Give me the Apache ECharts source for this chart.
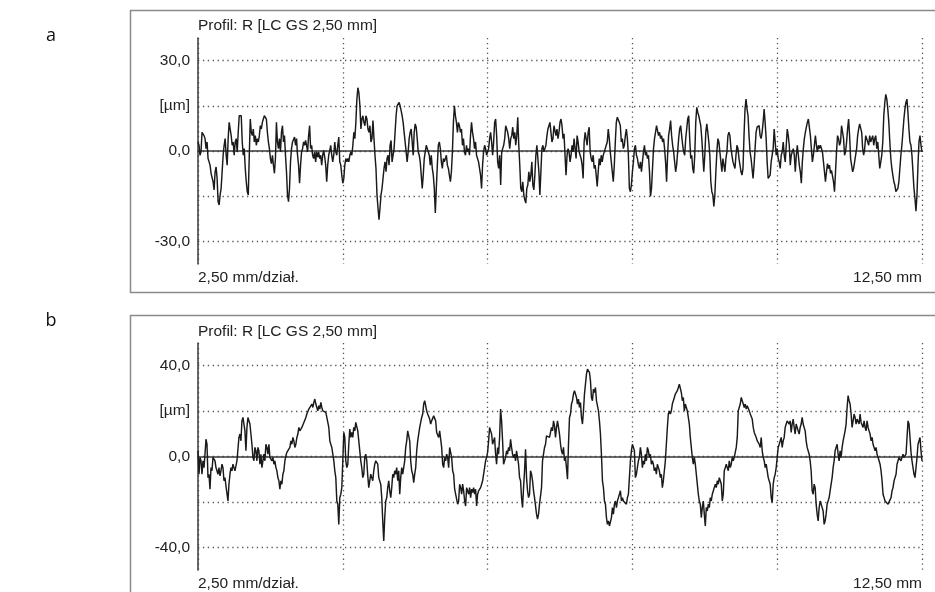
<!DOCTYPE html>
<html><head><meta charset="utf-8">
<script src="https://cdn.jsdelivr.net/npm/echarts@6/dist/echarts.min.js"></script>
<style>html,body{margin:0;padding:0;background:#fff}#c{width:935px;height:592px}</style>
</head><body><div id="c"></div>
<script>
const xMax = 12.5;
const xInterval = 2.5;
const yTicksA = [-30, -15, 0, 15, 30];
const yTicksB = [-40, -20, 0, 20, 40];
const yRangeA = 37.5;
const yRangeB = 50;
const titleText = 'Profil: R [LC GS 2,50 mm]';
const scaleText = '2,50 mm/dział.';
const lengthText = '12,50 mm';
const unitText = '[µm]';

// panel a profile (µm), sampled left to right
const profileA1 = [3.0,1.9,-1.4,-0.3,6.2,6.8,5.1,4.1,0.8,3.0,-2.5,-3.6,-4.7,-7.4,-6.9,-10.2,-12.9,-6.9,-5.3,-9.1,-16.8,-17.9,-14.6,-12.4,-6.9,-1.4,1.9,4.1,-1.4,-4.7,4.1,9.5,7.3,5.1,1.9,3.0,-1.4,3.0,4.1,-0.3,6.2,11.7,12.3,11.7,3.0,-1.4,0.8,-5.8,-10.2,-13.5,-14.6,-1.4,10.6,6.2,5.1,7.3,3.0,5.1,1.9,4.1,3.0,5.1,8.4,7.3,9.5,10.6,11.7,11.2,10.6,6.2,3.0,0.8,-2.5,-4.2,-1.4,-4.7,-7.4,-2.5,9.5,3.0,0.8,4.1,-0.3,6.2,8.4,3.0,5.1,-1.4,-6.9,-14.6,-16.8,-12.4,-3.6,0.8,3.0,3.0,4.6,1.9,4.1,-1.4,-4.7,-10.7,-4.7,-0.3,0.8,3.0,1.9,3.5,1.9,-0.3,5.1,8.4,0.8,1.9,-1.4,-2.5,-0.3,-3.6,-0.3,-2.0,-0.3,-2.5,-1.4,-4.7,-1.4,0.2,-2.0,-4.7,-10.2,-4.7,-1.4,0.2,1.9,-1.4,-3.6,-1.4,3.0,-0.3,-1.4,1.9,4.6,-3.6,-4.7,-8.0,-10.7,-9.1,-4.7,-2.5,-3.6,-2.5,-3.6,-1.4,-0.3,-1.4,1.9,6.2,4.1,9.5,17.2,21.0,19.4,15.0,7.3,10.6,11.7,9.5,8.4,11.7,10.6,7.3,6.2,8.4,3.0,4.1];
const profileA2 = [10.1,4.1,-1.4,-5.8,-14.6,-18.9,-22.8,-18.9,-14.6,-12.4,-9.1,-5.8,-3.6,-6.9,-2.5,-1.4,-4.7,1.9,3.5,-3.6,-1.4,0.8,6.2,11.7,15.0,14.5,16.1,15.0,13.4,11.7,9.5,6.2,3.0,-0.3,-3.6,-0.3,4.1,6.2,7.3,3.0,-1.4,6.2,9.0,7.9,4.1,-0.3,-1.4,-3.6,-8.0,-12.4,-8.0,-2.5,-0.3,1.9,1.9,-0.3,-1.4,-4.7,-1.4,-5.8,-8.0,-12.4,-20.6,-12.4,-4.7,1.9,3.0,0.8,-3.6,-5.8,-2.5,-3.6,-2.5,-1.4,-4.7,-5.8,-8.0,-10.2,-6.9,-0.3,9.5,15.0,11.7,9.5,6.2,9.5,8.4,6.2,7.3,1.9,4.1,-0.3,-1.4,1.9,-0.3,0.8,-1.4,5.1,9.5,6.2,4.1,0.8,3.0,-1.4,-1.4,-3.6,-3.6,-8.0,-12.4,-4.7,-0.3,1.9,0.8,-1.4,-0.3,0.8,4.1,6.2,3.0,-1.4,3.0,9.5,10.6,5.1,-3.6,-5.8,-1.4,-11.3,-0.3,0.8,1.9,4.1,8.4,9.0,6.2,4.1,0.8,4.1,5.1,7.9,4.1,6.2,1.9,5.1,11.2,1.9,-4.7,-12.4,-13.5,-10.2,-14.6,-16.2,-17.3,-12.4,-11.3,-6.9,-10.2,-8.0,-3.6,-11.3,-12.9,-8.0,-1.4,1.9,1.9,-6.9,-14.6,-6.9,0.8,1.9,-0.3,0.8,1.9,5.1,7.3,8.4,9.5,6.2,3.0];
const profileA3 = [4.1,8.4,7.9,5.1,7.3,4.1,6.2,9.5,10.6,8.4,4.1,5.7,-1.4,-8.0,-1.4,0.8,-0.3,-3.6,-1.4,1.9,-0.3,4.1,0.8,-2.5,5.1,3.0,-0.3,-1.4,-2.5,-4.7,-9.1,3.0,6.2,4.1,1.9,6.2,7.9,-0.3,-2.5,-3.6,-1.4,-5.8,-4.7,-8.0,-11.8,-6.9,-2.5,-4.7,-1.4,-3.6,-1.4,-0.3,0.8,1.9,3.0,7.3,4.1,-0.3,-3.6,-6.9,-10.2,-4.7,3.0,9.5,11.2,10.6,9.5,8.4,3.0,4.1,0.8,1.9,5.1,7.3,4.1,-1.4,-12.4,-13.5,-11.3,-6.9,-3.6,0.8,1.9,-1.4,-2.5,-4.7,-5.8,-3.6,-6.9,-3.6,-0.3,1.9,-1.4,-0.3,-2.5,-1.4,-6.9,-15.1,-12.4,-5.8,0.8,4.1,6.2,8.4,7.9,5.1,6.2,4.1,5.1,3.0,4.1,0.8,-3.6,-10.2,-1.4,5.1,7.3,10.1,5.1,1.9,-0.3,-3.6,-6.9,-4.7,-0.3,4.1,7.3,8.4,5.1,1.9,-0.3,-1.4,4.1,7.3,10.6,11.7,4.1,-2.5,-1.4,-5.8,-7.4,-1.4,9.5,14.5,12.8,11.7,12.3,8.4,4.1,-1.4,-6.9,-1.4,6.2,9.0,6.2,3.0,-1.4,-10.2,-13.5,-14.6,-18.4,-14.6,-6.9,-0.3,4.1,3.0,-0.3,-3.6,-6.9,-2.5,-4.7,-6.9,-2.5,-0.3,5.1,6.2,5.1,0.8,-1.4,-3.6];
const profileA4 = [-3.6,-5.8,-1.4,1.9,0.8,-2.5,-4.7,-6.9,-8.0,-5.8,5.1,13.9,17.2,13.9,11.7,5.1,-0.3,-2.5,-5.8,-9.1,-4.7,0.8,6.2,7.9,7.3,8.4,5.1,4.1,6.2,9.5,13.9,9.5,4.1,-3.6,-9.1,-9.6,-8.0,-3.6,-1.4,0.8,7.3,3.0,-1.4,0.8,-2.5,-3.6,-5.8,-1.4,-0.3,3.0,-1.4,-3.6,1.9,7.3,5.1,1.9,-4.7,-1.4,-0.3,0.8,-1.4,-6.9,-1.4,1.9,-1.4,-4.7,-6.9,-10.7,-3.6,0.8,4.1,6.2,7.9,9.5,10.6,10.1,5.1,0.8,-3.6,-1.4,1.9,5.1,1.9,-0.3,1.9,0.8,1.9,1.9,-0.3,-3.6,-6.9,-10.2,-6.9,-4.2,-5.8,-4.7,-7.4,-6.4,-5.8,-10.2,-13.5,-6.9,-0.3,5.1,4.1,1.9,3.0,8.4,9.0,4.1,-1.4,-0.3,3.0,7.3,10.6,5.1,-2.5,-4.7,-6.9,-5.8,-3.6,-1.4,0.8,5.1,7.3,9.0,9.0,6.2,0.8,-1.4,0.8,5.1,4.1,3.0,1.9,5.1,3.0,4.1,5.1,1.9,4.1,5.1,0.8,3.0,-1.4,-5.8,-3.6,-1.4,3.0,11.7,16.1,18.8,17.2,13.9,9.5,3.0,-2.5,-5.8,-8.0,-10.2,-11.3,-13.5,-14.0,-12.4,-10.2,-5.8,-1.4,1.9,6.2,10.6,13.9,16.1,17.2,12.8,7.3,3.0,1.9,-1.4,-6.9,-12.4,-15.7,-20.0,-14.6,-4.7,3.0,5.1,1.9,-0.3];

// panel b profile (µm), sampled left to right
const profileB1 = [2.5,-7.8,-0.4,-1.9,-7.8,-1.9,-4.9,1.0,7.6,5.4,-9.3,-7.8,-14.4,-4.9,-6.3,-0.4,0.3,-1.9,-4.9,-6.3,-7.8,-4.9,-8.5,-6.3,-3.4,-4.9,-10.7,-9.3,-12.9,-13.7,-19.6,-12.2,-7.8,-4.9,-6.3,-3.4,-4.9,-6.3,-4.1,-1.9,3.2,8.4,9.9,6.9,15.7,17.2,14.3,11.3,2.5,12.8,17.2,17.9,14.3,9.9,5.4,-0.4,-1.9,4.0,2.5,-1.9,4.0,2.5,-3.4,1.0,-4.9,-1.9,1.0,-1.9,5.4,4.0,1.0,5.4,-0.4,-0.4,-1.9,-0.4,-3.4,-1.9,-4.9,-6.3,-9.3,-10.7,-14.4,-10.7,-12.2,-7.8,-6.3,-1.9,0.3,1.8,1.0,2.5,4.0,6.9,5.4,8.4,6.9,4.0,5.4,8.4,9.9,12.8,11.3,11.3,12.8,13.5,15.0,15.7,17.2,18.7,17.9,20.9,20.1,21.6,23.1,21.6,23.8,25.3,23.1,21.6,20.1,22.4,20.9,23.8,21.6,20.1,20.9,20.1,19.4,20.1,20.1,12.8,6.9,5.4,4.0,1.0,-1.9,-6.3,-9.3,-19.6,-21.0,-29.9,-18.1,-16.6,-13.7,-1.9,10.6,8.4,-1.9,-4.9,-3.4,5.4,12.1,8.4,10.6,8.4,12.8,11.3,15.0,15.7,11.3,6.9,2.5,-1.9,-4.9,-9.3,-7.8,-0.4,1.0,-1.9,-8.5,-13.7,-10.7,-7.8,-9.3,-10.7,-6.3,-3.4,-1.9];
const profileB2 = [-1.9,-3.4,-9.3,-10.0,-12.2,-18.1,-28.4,-37.2,-26.9,-19.6,-18.1,-13.7,-10.7,-15.1,-18.1,-13.7,-7.8,-9.3,-6.3,-7.8,-4.9,-10.7,-6.3,-16.6,-9.3,-4.9,-7.8,-8.5,-1.9,4.0,6.9,11.3,12.1,6.9,-1.9,-6.3,-7.8,-11.5,-7.8,-4.9,2.5,6.9,9.9,12.8,15.0,17.2,18.7,23.1,24.6,23.8,20.1,18.7,19.4,16.5,14.3,15.7,16.5,17.9,18.7,15.7,10.6,11.3,8.4,11.3,10.6,4.0,-3.4,-4.9,-0.4,-1.9,1.0,-0.4,-4.9,4.0,3.2,-0.4,-6.3,-7.8,-14.4,-13.7,-15.1,-21.0,-19.6,-12.2,-13.7,-16.6,-12.2,-15.1,-19.6,-21.8,-13.7,-12.9,-16.6,-13.7,-18.1,-14.4,-15.9,-13.7,-16.6,-14.4,-21.8,-16.6,-15.1,-15.1,-13.7,-12.2,-10.7,-7.8,-4.9,-1.9,-0.4,1.8,6.9,12.8,11.3,9.9,5.4,6.9,8.4,1.0,-3.4,4.0,1.0,8.4,20.9,15.7,6.9,-3.4,-1.9,-0.4,2.5,1.0,4.0,2.5,7.6,4.0,1.0,-0.4,1.0,-1.9,2.5,-0.4,-3.4,-9.3,-10.7,-18.1,-22.5,-13.7,-6.3,3.2,-9.3,-15.1,-18.1,-16.6,-6.3,-7.8,-10.7,-15.1,-18.1,-18.8,-25.4,-27.6,-25.4,-21.0,-20.3,-13.7,-1.9,1.0,4.0,5.4,9.1,8.4,9.9,8.4,10.6,12.8,11.3,15.7,13.5];
const profileB3 = [8.4,12.8,15.7,12.8,9.9,5.4,2.5,1.0,4.0,-1.9,-0.4,-4.9,-10.0,5.4,17.2,18.7,23.1,24.6,27.5,29.0,27.5,26.0,23.1,25.3,21.6,23.8,17.2,14.3,20.1,27.5,31.9,36.3,38.5,39.3,37.1,33.4,26.0,24.6,29.7,28.2,30.4,24.6,24.6,20.1,15.7,9.9,1.0,-10.7,-13.7,-19.6,-21.0,-26.9,-29.9,-28.4,-30.6,-29.9,-26.9,-22.5,-25.4,-21.0,-19.6,-22.5,-19.6,-18.1,-16.6,-15.1,-19.6,-18.1,-19.6,-20.3,-19.6,-21.0,-18.1,-16.6,-9.3,-1.9,2.5,5.4,4.0,2.5,-9.3,-7.8,-4.9,-1.9,-0.4,4.0,1.0,-4.9,-1.9,-3.4,1.0,-1.9,4.0,2.5,-0.4,1.0,-3.4,-1.9,-3.4,-6.3,-4.9,-7.8,-3.4,-4.9,-6.3,-9.3,-7.8,-13.7,-10.7,-6.3,-1.9,5.4,12.8,18.7,20.1,18.7,20.1,23.1,23.8,26.0,27.5,28.2,29.0,30.4,31.9,31.9,28.2,24.6,26.0,20.1,23.1,21.6,20.1,17.2,14.3,8.4,4.0,-0.4,-3.4,-0.4,-3.4,-7.8,-12.2,-16.6,-19.6,-21.0,-26.9,-22.5,-19.6,-25.4,-30.6,-22.5,-24.0,-21.0,-22.5,-18.1,-19.6,-16.6,-16.6,-13.7,-12.2,-13.7,-10.7,-12.2,-9.3,-10.7,-12.2,-19.6,-16.6,-6.3,-4.9,-3.4,-4.9,-6.3,-1.9,-4.9,-3.4,-0.4,-1.9,-0.4];
const profileB4 = [0.3,4.0,8.4,20.1,21.6,23.1,26.0,26.8,23.1,21.6,23.1,20.9,22.4,21.6,20.1,18.7,17.9,16.5,12.8,10.6,11.3,8.4,6.9,7.6,5.4,4.0,8.4,2.5,-0.4,-1.9,-4.9,-3.4,-6.3,-9.3,-10.0,-12.2,-18.1,-20.3,-12.2,-9.3,-7.8,-4.9,-0.4,4.0,5.4,6.9,8.4,4.0,6.9,8.4,12.8,14.3,15.7,16.5,14.3,15.7,10.6,14.3,16.5,12.8,9.9,14.3,12.8,11.3,9.9,12.8,14.3,17.2,14.3,12.8,11.3,6.9,4.0,4.0,1.0,-1.9,-6.3,-15.1,-16.6,-12.2,-13.7,-21.0,-25.4,-28.4,-22.5,-19.6,-21.0,-20.3,-24.0,-29.9,-28.4,-25.4,-21.0,-19.6,-18.1,-15.1,-12.2,-9.3,-4.9,-1.9,2.5,4.0,5.4,1.0,-1.9,2.5,-0.4,4.0,6.9,9.1,11.3,14.3,21.6,26.8,24.6,23.1,18.7,12.8,15.7,18.7,17.2,14.3,16.5,15.7,14.3,18.7,15.0,14.3,12.8,15.7,12.8,11.3,15.7,12.8,11.3,9.9,6.9,8.4,5.4,4.0,2.5,4.0,1.0,-0.4,-1.9,-3.4,-6.3,-10.7,-16.6,-18.1,-19.6,-18.8,-20.3,-21.0,-21.8,-21.0,-18.1,-15.1,-13.7,-10.7,-9.3,-7.8,-3.4,-1.9,-0.4,0.3,-1.9,-0.4,1.0,-0.4,0.3,1.0,8.4,15.7,14.3,8.4,1.8,-1.9,-4.9,-7.8,-9.3,-4.9,-0.4,5.4,6.9,8.4,2.5,-1.9];

const profileA = [].concat(profileA1, profileA2, profileA3, profileA4);
const profileB = [].concat(profileB1, profileB2, profileB3, profileB4);

function toPairs(arr) {
  const n = arr.length;
  return arr.map((v, i) => [i * xMax / (n - 1), v]);
}

const FONT = '"Liberation Sans", Arial, sans-serif';
const TXT = '#222';
const FS = 15.5;
const dotted = { color: '#555', width: 1.3, type: [1.3, 3.6] };

function yFormatter(unitVal) {
  return function (v) {
    if (Math.abs(v - unitVal) < 1e-9) return unitText;
    if (Math.abs(v + unitVal) < 1e-9) return '';
    return v.toFixed(1).replace('.', ',');
  };
}

function xAxisFor(idx) {
  return {
    gridIndex: idx, type: 'value', min: 0, max: xMax, interval: xInterval,
    axisLine: { show: true, onZero: true, lineStyle: { color: '#3a3a3a', width: 1.5 } },
    axisTick: { show: false }, axisLabel: { show: false },
    splitLine: { show: true, lineStyle: dotted }
  };
}
function yAxisFor(idx, range, ticks, unitVal) {
  return {
    gridIndex: idx, type: 'value', min: -range, max: range,
    axisLine: { show: true, lineStyle: { color: '#3a3a3a', width: 1.5 } },
    axisTick: { show: false, customValues: ticks },
    axisLabel: { customValues: ticks, formatter: yFormatter(unitVal), fontSize: FS, fontFamily: FONT, color: TXT, margin: 8 },
    splitLine: { show: true, lineStyle: dotted }
  };
}

const chart = echarts.init(document.getElementById('c'), null, { renderer: 'canvas' });
chart.setOption({
  animation: false,
  backgroundColor: '#fff',
  grid: [
    { left: 198, top: 38, width: 724, height: 226 },
    { left: 198, top: 343, width: 724, height: 227 }
  ],
  xAxis: [xAxisFor(0), xAxisFor(1)],
  yAxis: [yAxisFor(0, yRangeA, yTicksA, 15), yAxisFor(1, yRangeB, yTicksB, 20)],
  series: [
    { type: 'line', xAxisIndex: 0, yAxisIndex: 0, data: toPairs(profileA), symbol: 'none', silent: true,
      lineStyle: { color: '#1a1a1a', width: 1.45 }, z: 5 },
    { type: 'line', xAxisIndex: 1, yAxisIndex: 1, data: toPairs(profileB), symbol: 'none', silent: true,
      lineStyle: { color: '#1a1a1a', width: 1.45 }, z: 5 }
  ],
  graphic: [
    { type: 'rect', shape: { x: 130.5, y: 10.5, width: 830, height: 282 }, style: { fill: 'none', stroke: '#8a8a8a', lineWidth: 1.5 }, z: -1 },
    { type: 'rect', shape: { x: 130.5, y: 315.5, width: 830, height: 300 }, style: { fill: 'none', stroke: '#8a8a8a', lineWidth: 1.5 }, z: -1 },
    { type: 'text', x: 198, y: 26, style: { text: titleText, font: FS + 'px ' + FONT, fill: TXT, textAlign: 'left', textVerticalAlign: 'middle' } },
    { type: 'text', x: 198, y: 278, style: { text: scaleText, font: FS + 'px ' + FONT, fill: TXT, textAlign: 'left', textVerticalAlign: 'middle' } },
    { type: 'text', x: 922, y: 278, style: { text: lengthText, font: FS + 'px ' + FONT, fill: TXT, textAlign: 'right', textVerticalAlign: 'middle' } },
    { type: 'text', x: 198, y: 332, style: { text: titleText, font: FS + 'px ' + FONT, fill: TXT, textAlign: 'left', textVerticalAlign: 'middle' } },
    { type: 'text', x: 198, y: 584, style: { text: scaleText, font: FS + 'px ' + FONT, fill: TXT, textAlign: 'left', textVerticalAlign: 'middle' } },
    { type: 'text', x: 922, y: 584, style: { text: lengthText, font: FS + 'px ' + FONT, fill: TXT, textAlign: 'right', textVerticalAlign: 'middle' } },
    { type: 'text', x: 51, y: 36, style: { text: 'a', font: '18px "Open Sans", sans-serif', fill: '#111', textAlign: 'center', textVerticalAlign: 'middle' } },
    { type: 'text', x: 51, y: 321, style: { text: 'b', font: '18px "Open Sans", sans-serif', fill: '#111', textAlign: 'center', textVerticalAlign: 'middle' } }
  ]
});
</script>
</body></html>
